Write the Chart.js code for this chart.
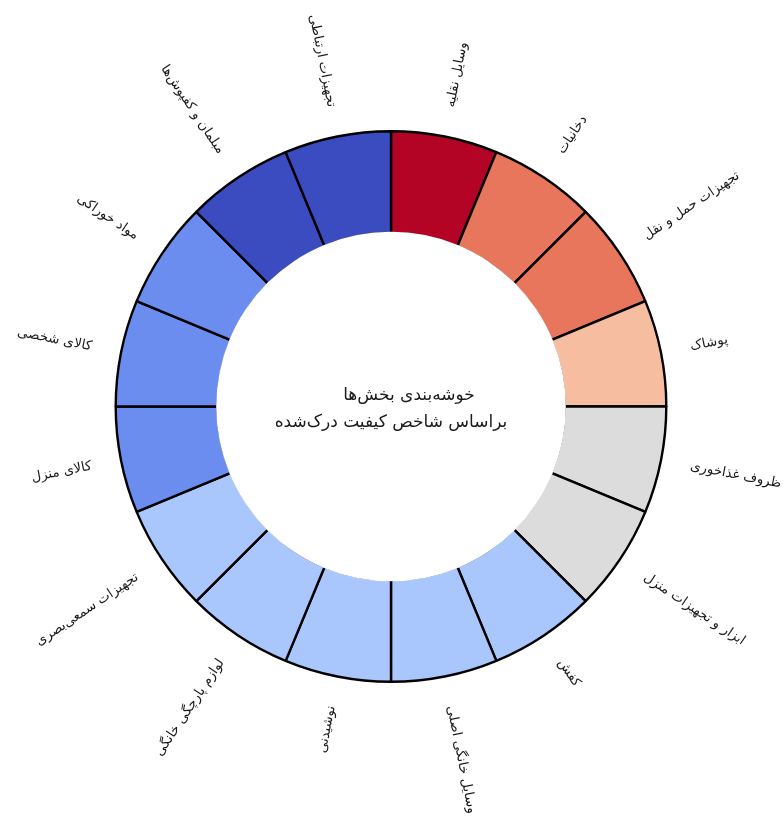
<!DOCTYPE html>
<html>
<head>
<meta charset="utf-8">
<script src="https://cdn.jsdelivr.net/npm/chart.js@4/dist/chart.umd.min.js"></script>
<style>
html,body{margin:0;padding:0;background:#fff;}
#wrap{width:784px;height:818px;position:relative;}
</style>
</head>
<body>
<div id="wrap"><canvas id="c" width="784" height="818"></canvas></div>
<script>
// Categories clockwise from 12 o'clock
const categories = [
  "وسایل نقلیه",
  "دخانیات",
  "تجهیزات حمل و نقل",
  "پوشاک",
  "ظروف غذاخوری",
  "ابزار و تجهیزات منزل",
  "کفش",
  "وسایل خانگی اصلی",
  "نوشیدنی",
  "لوازم پارچگی خانگی",
  "تجهیزات سمعی‌بصری",
  "کالای منزل",
  "کالای شخصی",
  "مواد خوراکی",
  "مبلمان و کفپوش‌ها",
  "تجهیزات ارتباطی"
];
// Equal shares for every sector
const values = [1,1,1,1,1,1,1,1,1,1,1,1,1,1,1,1];
// Cluster membership of each sector
const clusters = [0,1,1,2,3,3,4,4,4,4,4,5,5,5,6,6];
const clusterColors = ["#b40426","#e8765c","#f6bda0","#dcdcdc","#aac7fd","#6a8def","#3b4cc0"];
const centerLines = ["خوشه‌بندی بخش‌ها","براساس شاخص کیفیت درک‌شده"];

const labelPlugin = {
  id: 'labelPlugin',
  afterDatasetsDraw(chart) {
    const ctx = chart.ctx;
    const meta = chart.getDatasetMeta(0);
    let cx = 0, cy = 0, inner = 0;
    meta.data.forEach((arc, i) => {
      const p = arc.getProps(['x','y','startAngle','endAngle','outerRadius','innerRadius'], true);
      cx = p.x; cy = p.y; inner = p.innerRadius;
      const mid = (p.startAngle + p.endAngle) / 2;
      const r = p.outerRadius + 30;
      const tx = p.x + Math.cos(mid) * r;
      const ty = p.y + Math.sin(mid) * r;
      ctx.save();
      ctx.translate(tx, ty);
      let a = mid;
      let align = 'left';
      const deg = ((mid + Math.PI/2) * 180 / Math.PI + 360) % 360;
      if (deg > 180) { a = mid + Math.PI; align = 'right'; }
      ctx.rotate(a);
      ctx.font = '13.4px "DejaVu Sans"';
      ctx.fillStyle = '#1a1a1a';
      ctx.textAlign = align;
      ctx.textBaseline = 'middle';
      ctx.direction = 'rtl';
      ctx.fillText(categories[i], 0, 0);
      ctx.restore();
    });
    // hide border on the inner edge
    ctx.save();
    ctx.beginPath();
    ctx.arc(cx, cy, inner + 1.4, 0, Math.PI * 2);
    ctx.fillStyle = '#ffffff';
    ctx.fill();
    ctx.font = '17px "DejaVu Sans"';
    ctx.fillStyle = '#1a1a1a';
    ctx.textAlign = 'center';
    ctx.textBaseline = 'middle';
    ctx.direction = 'rtl';
    ctx.fillText(centerLines[0], cx + 18, cy - 11);
    ctx.fillText(centerLines[1], cx, cy + 16);
    ctx.restore();
  }
};

new Chart(document.getElementById('c'), {
  type: 'doughnut',
  data: {
    labels: categories,
    datasets: [{
      data: values,
      backgroundColor: clusters.map(c => clusterColors[c]),
      borderColor: '#000000',
      borderWidth: 2.4,
      borderAlign: 'center',
      hoverOffset: 0
    }]
  },
  options: {
    responsive: false,
    animation: false,
    cutout: '63%',
    layout: { padding: { left: 114.5, right: 116.5, top: 130, bottom: 135 } },
    plugins: { legend: { display: false }, tooltip: { enabled: false } },
    events: []
  },
  plugins: [labelPlugin]
});
</script>
</body>
</html>
